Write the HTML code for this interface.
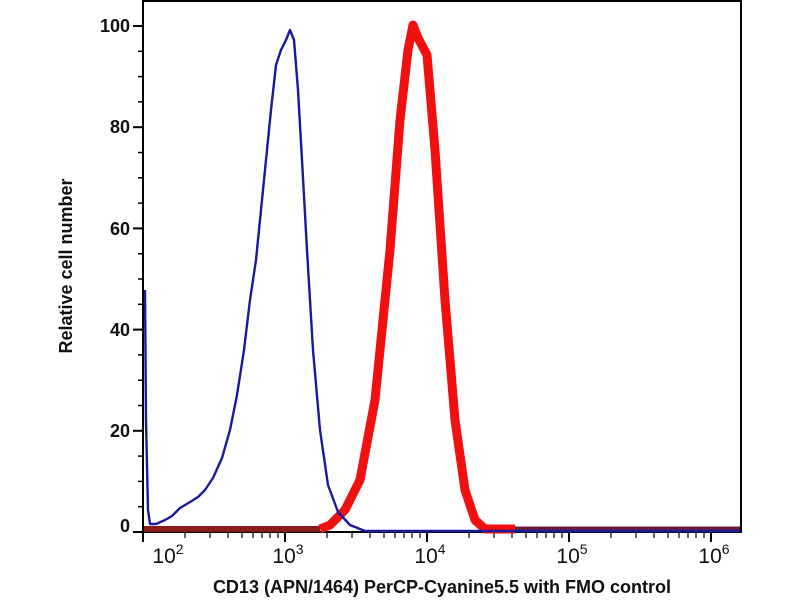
<!DOCTYPE html><html><head><style>body{margin:0;background:#fff}svg{display:block}text{font-family:"Liberation Sans",Arial,sans-serif;font-weight:bold;fill:#111}</style></head><body>
<svg width="800" height="600" viewBox="0 0 800 600">
<rect x="143" y="1" width="598" height="531" fill="none" stroke="#000" stroke-width="2"/>
<g stroke="#000" stroke-width="2">
<line x1="133" y1="532" x2="143" y2="532"/><line x1="133" y1="430.8" x2="143" y2="430.8"/><line x1="133" y1="329.6" x2="143" y2="329.6"/><line x1="133" y1="228.4" x2="143" y2="228.4"/><line x1="133" y1="127.2" x2="143" y2="127.2"/><line x1="133" y1="26" x2="143" y2="26"/>
</g>
<g stroke="#000" stroke-width="1.5">
<line x1="138" y1="506.7" x2="143" y2="506.7"/><line x1="138" y1="481.4" x2="143" y2="481.4"/><line x1="138" y1="456.1" x2="143" y2="456.1"/>
<line x1="138" y1="405.5" x2="143" y2="405.5"/><line x1="138" y1="380.2" x2="143" y2="380.2"/><line x1="138" y1="354.9" x2="143" y2="354.9"/>
<line x1="138" y1="304.3" x2="143" y2="304.3"/><line x1="138" y1="279" x2="143" y2="279"/><line x1="138" y1="253.7" x2="143" y2="253.7"/>
<line x1="138" y1="203.1" x2="143" y2="203.1"/><line x1="138" y1="177.8" x2="143" y2="177.8"/><line x1="138" y1="152.5" x2="143" y2="152.5"/>
<line x1="138" y1="101.9" x2="143" y2="101.9"/><line x1="138" y1="76.6" x2="143" y2="76.6"/><line x1="138" y1="51.3" x2="143" y2="51.3"/>
</g>
<g text-anchor="end" font-size="18">
<text x="130" y="532">0</text><text x="130" y="437">20</text><text x="130" y="336">40</text><text x="130" y="235">60</text><text x="130" y="133">80</text><text x="130" y="32">100</text>
</g>
<g stroke="#000" stroke-width="2">
<line x1="143" y1="532" x2="143" y2="542"/><line x1="285" y1="532" x2="285" y2="542"/><line x1="427" y1="532" x2="427" y2="542"/><line x1="569" y1="532" x2="569" y2="542"/><line x1="711" y1="532" x2="711" y2="542"/>
</g>
<g stroke="#000" stroke-width="1.2" id="mt">
<line x1="185" y1="532" x2="185" y2="538"/><line x1="210" y1="532" x2="210" y2="538"/><line x1="228" y1="532" x2="228" y2="538"/><line x1="242" y1="532" x2="242" y2="538"/><line x1="253" y1="532" x2="253" y2="538"/><line x1="262" y1="532" x2="262" y2="538"/><line x1="270" y1="532" x2="270" y2="538"/><line x1="278" y1="532" x2="278" y2="538"/>
</g>
<use href="#mt" x="142"/><use href="#mt" x="284"/><use href="#mt" x="426"/>
<g font-size="21" text-anchor="middle" font-weight="normal">
<text x="168" y="563" style="font-weight:normal">10<tspan font-size="14" dy="-9">2</tspan></text>
<text x="288" y="563" style="font-weight:normal">10<tspan font-size="14" dy="-9">3</tspan></text>
<text x="430" y="563" style="font-weight:normal">10<tspan font-size="14" dy="-9">4</tspan></text>
<text x="572" y="563" style="font-weight:normal">10<tspan font-size="14" dy="-9">5</tspan></text>
<text x="714" y="563" style="font-weight:normal">10<tspan font-size="14" dy="-9">6</tspan></text>
</g>
<text x="442" y="593" font-size="18" text-anchor="middle">CD13 (APN/1464) PerCP-Cyanine5.5 with FMO control</text>
<text transform="translate(72,266) rotate(-90)" font-size="18" text-anchor="middle">Relative cell number</text>
<polyline fill="none" stroke="#8b1a1a" stroke-width="6" points="144,529 320,529"/>
<polyline fill="none" stroke="#6b1a3a" stroke-width="5" points="510,529 740,529"/>
<polyline fill="none" stroke="#f01010" stroke-width="9" stroke-linejoin="round" points="320,529 330,525 345,510 360,480 375,400 390,250 400,120 408,50 413,25 418,38 427,55 435,150 445,300 455,420 465,490 475,520 485,529 515,529"/>
<polyline fill="none" stroke="#1a1a9a" stroke-width="2.4" stroke-linejoin="round" points="145,290 146,420 148,510 150,524 156,524 165,520 172,516 180,508 190,502 198,497 205,490 213,478 222,458 230,430 237,395 244,350 250,300 256,260 261,210 266,160 271,110 276,65 281,50 286,40 290,30 294,40 298,90 302,160 307,250 313,350 320,430 328,485 338,512 350,525 365,531 740,531"/>
</svg></body></html>
